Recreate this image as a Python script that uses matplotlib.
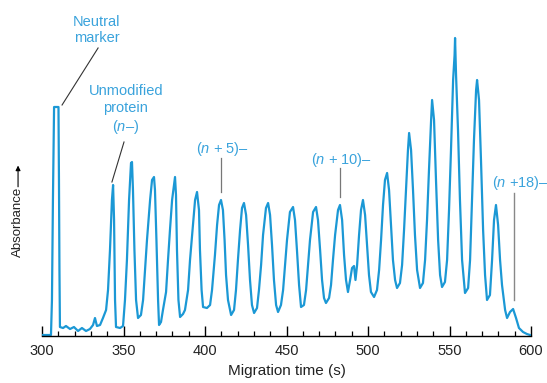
import matplotlib
matplotlib.use('Agg')
import matplotlib.pyplot as plt
from matplotlib.ticker import MultipleLocator

plt.rcParams['font.family'] = ['Liberation Sans', 'DejaVu Sans']
plt.rcParams['mathtext.fontset'] = 'custom'
plt.rcParams['mathtext.it'] = 'Liberation Sans:italic'
plt.rcParams['mathtext.rm'] = 'Liberation Sans'

# electropherogram trace: migration time (s), absorbance (arb. units)
time_s = [
    300.0, 305.5, 306.1, 306.7, 307.4, 310.1, 310.4, 310.7, 311.0, 312.9,
    314.7, 317.2, 319.6, 322.1, 324.5, 327.0, 329.4, 331.3, 332.5, 333.7,
    335.6, 337.4, 339.3, 340.5, 341.7, 342.9, 343.6, 344.2, 344.8, 345.4,
    347.9, 349.7, 350.9, 352.1, 353.4, 354.6, 355.2, 355.8, 356.7, 357.7,
    358.9, 360.7, 362.0, 363.2, 364.4, 366.3, 367.5, 368.7, 369.3, 370.2,
    371.2, 371.8, 373.0, 374.2, 376.1, 377.3, 378.5, 379.8, 381.6, 382.2,
    382.8, 383.7, 384.7, 386.5, 387.7, 389.6, 390.8, 392.6, 393.9, 395.1,
    396.3, 396.9, 397.9, 398.8, 401.2, 403.1, 404.3, 406.1, 407.4, 408.6,
    409.8, 411.0, 412.0, 412.9, 414.1, 416.0, 417.8, 419.0, 420.2, 421.5,
    422.7, 423.9, 425.2, 426.4, 427.6, 428.8, 430.1, 431.9, 433.1, 434.4,
    435.6, 437.4, 438.7, 439.9, 441.1, 442.3, 443.6, 444.8, 446.6, 447.9,
    449.1, 450.3, 452.1, 454.0, 455.2, 456.4, 457.7, 458.9, 460.7, 462.0,
    463.2, 464.4, 466.3, 468.1, 469.3, 470.6, 471.8, 473.0, 474.2, 476.1,
    477.3, 478.5, 479.8, 481.6, 482.8, 484.1, 485.3, 486.5, 487.7, 489.0,
    490.2, 491.4, 492.3, 493.3, 494.5, 495.7, 496.9, 498.2, 499.4, 500.6,
    501.8, 503.7, 505.5, 506.8, 508.0, 509.2, 510.4, 511.7, 512.9, 514.1,
    515.3, 516.6, 517.8, 519.6, 520.9, 522.1, 523.3, 524.5, 525.2, 526.4,
    527.6, 528.8, 530.1, 531.9, 533.7, 535.0, 536.2, 537.4, 538.7, 539.3,
    540.5, 541.7, 543.0, 544.2, 545.4, 547.2, 548.5, 549.7, 550.9, 552.2,
    553.1, 553.4, 554.0, 555.2, 556.4, 557.7, 559.5, 561.4, 562.6, 563.8,
    565.0, 566.3, 566.9, 568.1, 569.3, 570.6, 571.8, 573.0, 574.8, 576.1,
    577.3, 578.5, 579.8, 581.0, 582.2, 584.1, 585.3, 587.1, 589.0, 590.8,
    592.6, 595.1, 597.5, 599.4,
]
absorbance = [
    0, 0, 35, 135, 228, 228, 155, 65, 8, 7,
    9, 6, 8, 4, 7, 4, 6, 10, 17, 9,
    10, 17, 25, 45, 85, 135, 150, 115, 35, 8,
    7, 9, 35, 75, 135, 172, 173, 145, 85, 35,
    17, 20, 35, 65, 95, 135, 155, 158, 145, 95,
    35, 10, 13, 25, 43, 75, 105, 135, 158, 140,
    85, 35, 18, 21, 25, 45, 75, 110, 135, 143,
    125, 85, 45, 28, 27, 30, 45, 80, 110, 130,
    135, 125, 95, 60, 35, 20, 25, 45, 75, 105,
    127, 132, 120, 90, 55, 30, 22, 27, 45, 70,
    100, 127, 132, 120, 90, 55, 30, 23, 30, 45,
    70, 95, 123, 128, 115, 85, 50, 28, 30, 45,
    70, 95, 123, 128, 115, 85, 55, 37, 32, 37,
    50, 75, 100, 125, 130, 115, 80, 55, 43, 55,
    67, 69, 55, 70, 100, 125, 135, 120, 90, 60,
    43, 38, 45, 65, 95, 130, 155, 162, 145, 110,
    75, 55, 47, 52, 70, 105, 145, 185, 202, 185,
    145, 100, 65, 47, 52, 75, 115, 165, 215, 235,
    215, 155, 95, 60, 48, 53, 75, 125, 185, 255,
    280, 297, 260, 205, 135, 75, 42, 47, 75, 135,
    195, 245, 255, 235, 175, 105, 60, 35, 40, 75,
    115, 130, 110, 75, 50, 25, 17, 23, 26, 17,
    7, 3, 1, 0,
]

x_ticks = [300, 350, 400, 450, 500, 550, 600]

blue_text = '#3aa3dc'
trace_col = '#1b98d5'

fig = plt.figure(figsize=(5.47, 3.83), dpi=100)
ax = fig.add_axes([0.0768, 0.1227, 0.894, 0.799])
ax.plot(time_s, absorbance, color=trace_col, lw=1.6, solid_joinstyle='round')

ax.set_xlim(300, 600)
ax.set_ylim(-1, 305)
for s in ['top', 'right', 'left']:
    ax.spines[s].set_visible(False)
ax.spines['bottom'].set_linewidth(1.0)
ax.set_yticks([])
ax.set_xticks(x_ticks)
ax.xaxis.set_minor_locator(MultipleLocator(10))
ax.tick_params(axis='x', which='major', direction='in', length=7, width=1.0,
               labelsize=10.5, pad=6, labelcolor='#222222')
ax.tick_params(axis='x', which='minor', direction='in', length=3.6, width=0.9)
ax.set_xlabel('Migration time (s)', fontsize=11, labelpad=4, color='#222222')

# annotations
ann_fs = 10.5
ax.text(333.7, 305, 'Neutral\nmarker', color=blue_text, fontsize=ann_fs,
        ha='center', va='center', linespacing=1.25, clip_on=False)
ax.plot([334.4, 312.3], [287, 230], color='#333333', lw=0.8)

ax.text(351.5, 225, 'Unmodified\nprotein\n($\\it{n}$–)', color=blue_text, fontsize=ann_fs,
        ha='center', va='center', linespacing=1.25)
ax.plot([350.3, 342.9], [193, 153], color='#333333', lw=0.8)

ax.text(410.9, 186, '($\\it{n}$ + 5)–', color=blue_text, fontsize=ann_fs,
        ha='center', va='center')
ax.plot([409.8, 409.8], [177, 143], color='#777777', lw=0.9)

ax.text(484.0, 175, '($\\it{n}$ + 10)–', color=blue_text, fontsize=ann_fs,
        ha='center', va='center')
ax.plot([482.8, 482.8], [167, 138], color='#777777', lw=0.9)

ax.text(593.2, 152, '($\\it{n}$ +18)–', color=blue_text, fontsize=ann_fs,
        ha='center', va='center', clip_on=False)
ax.plot([589.6, 589.6], [142, 35], color='#888888', lw=1.0)

# y-axis label with arrow
fig.text(0.033, 0.42, 'Absorbance', rotation=90, fontsize=9.5,
         ha='center', va='center', color='#222222')
fig.patches.append(matplotlib.patches.FancyArrowPatch(
    (0.033, 0.505), (0.033, 0.575), transform=fig.transFigure,
    arrowstyle='-|>', mutation_scale=7, lw=0.8, color='black'))

fig.savefig('out.png', dpi=100)
